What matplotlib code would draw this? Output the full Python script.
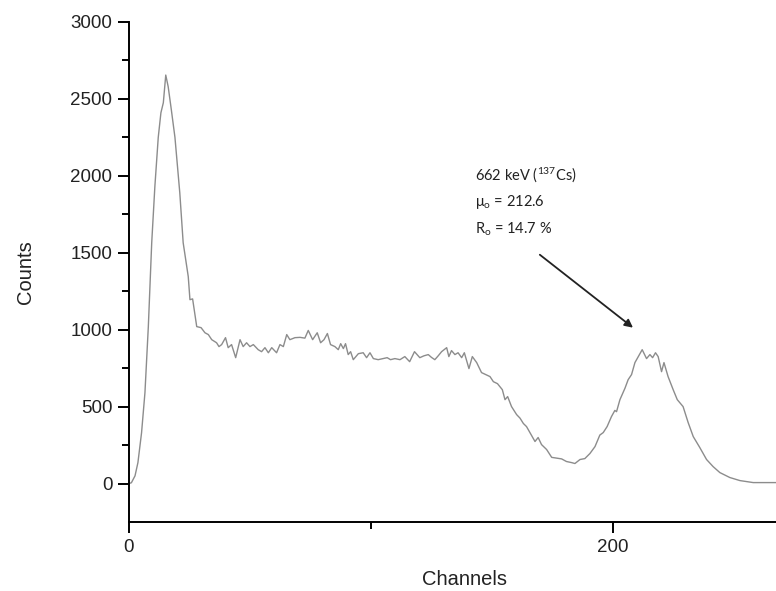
import matplotlib
matplotlib.use("Agg")
import matplotlib.pyplot as plt
from matplotlib.ticker import FixedLocator

# spectrum (channel, counts)
channels = [0, 1, 2.5, 3.7, 5.2, 6.6, 8.0, 9.4, 10.7, 12.1, 13.2, 14.2, 15.2, 16.2, 17.5,
            19.0, 21.0, 22.4, 24.5, 25.2, 26.3, 28.0, 29.8, 31.4, 32.8, 34.2, 36.2, 37.2,
            38.3, 39.9, 41.0, 42.4, 44.1, 45.9, 47.2, 48.6, 50.0, 51.4, 53.4, 54.8, 56.2,
            57.6, 59.0, 61.0, 62.4, 63.8, 65.2, 66.5, 68.6, 70.7, 72.7, 74.1, 75.9, 77.8,
            79.2, 80.6, 82.0, 83.3, 85.1, 86.5, 87.5, 88.6, 89.5, 90.6, 91.6, 92.7, 94.8,
            96.8, 98.2, 99.6, 101.0, 103.0, 105.0, 106.7, 108.1, 109.9, 112.0, 114.0, 116.0,
            118.0, 120.2, 121.9, 123.7, 125.0, 126.4, 127.8, 129.2, 131.3, 132.2, 133.3,
            134.7, 136.0, 137.5, 138.6, 140.5, 141.9, 143.7, 145.7, 147.4, 149.2, 150.6,
            152.3, 154.3, 155.4, 156.5, 158.1, 160.2, 161.6, 163.0, 164.3, 165.7, 167.8,
            169.1, 170.5, 172.6, 174.7, 176.7, 178.8, 180.8, 182.9, 184.3, 186.4, 188.4,
            190.5, 192.6, 194.6, 196.0, 197.6, 199.4, 200.8, 201.5, 202.9, 205.0, 206.3,
            207.7, 209.1, 210.5, 212.1, 213.9, 215.3, 216.4, 217.6, 218.7, 220.1, 221.1,
            222.8, 224.9, 226.6, 229.0, 231.1, 233.2, 235.9, 238.7, 241.4, 244.2, 248.3,
            252.5, 258.0, 263.5, 267.4]
counts = [0, 5, 50, 136, 330, 590, 1020, 1565, 1930, 2250, 2410, 2475, 2655, 2580, 2430,
          2250, 1890, 1565, 1345, 1195, 1200, 1020, 1013, 980, 968, 935, 915, 890,
          903, 948, 883, 903, 818, 935, 890, 915, 890, 903, 870, 857, 883,
          850, 883, 850, 903, 890, 968, 935, 948, 950, 945, 995, 935, 980,
          915, 935, 975, 903, 890, 870, 909, 877, 909, 838, 857, 805, 844,
          850, 818, 850, 812, 805, 812, 818, 805, 812, 805, 825, 792,
          857, 818, 830, 838, 820, 805, 830, 857, 883, 825, 864,
          838, 850, 818, 850, 747, 825, 786, 721, 708, 695, 662,
          649, 610, 545, 565, 500, 448, 425, 390, 370, 331, 273,
          299, 253, 221, 170, 165, 160, 143, 136, 130, 156, 162,
          195, 240, 315, 331, 370, 435, 475, 467, 545, 620, 675,
          708, 786, 825, 870, 812, 838, 818, 850, 825, 727, 786,
          695, 610, 545, 500, 396, 305, 234, 156, 110, 71, 39,
          19, 6, 6, 6]

plt.rcParams['font.family'] = ['Liberation Sans', 'DejaVu Sans']

fig = plt.figure(figsize=(7.76, 5.91), dpi=100)
ax = fig.add_axes([0.1662, 0.1168, 0.8338, 0.846])

ax.plot(channels, counts, color="#8c8c8c", lw=1.0)

ax.set_xlim(0, 267.4)
ax.set_ylim(-250, 3000)

ax.spines['top'].set_visible(False)
ax.spines['right'].set_visible(False)
ax.spines['left'].set_linewidth(1.4)
ax.spines['bottom'].set_linewidth(1.4)

ax.yaxis.set_major_locator(FixedLocator([0, 500, 1000, 1500, 2000, 2500, 3000]))
ax.yaxis.set_minor_locator(FixedLocator([250, 750, 1250, 1750, 2250, 2750]))
ax.xaxis.set_major_locator(FixedLocator([0, 200]))
ax.xaxis.set_minor_locator(FixedLocator([100]))
ax.tick_params(which='major', direction='out', length=8, width=1.4, labelsize=13.5,
               pad=4, labelcolor="#222222")
ax.tick_params(which='minor', direction='out', length=5, width=1.4)

ax.set_ylabel("Counts", fontsize=14.5, color="#222222")
ax.set_xlabel("Channels", fontsize=14.5, color="#222222")
ax.yaxis.set_label_coords(-0.145, 0.5)
ax.xaxis.set_label_coords(0.519, -0.096)

tfont = dict(fontsize=10.5, family=['Lato', 'DejaVu Sans'], va='center', ha='left',
             color="#222222")
ax.text(143, 2010, r"662 keV ($\mathregular{^{137}}$Cs)", **tfont)
ax.text(143, 1832, r"$\mathregular{\mu_o}$ = 212.6", **tfont)
ax.text(143, 1655, r"R$\mathregular{_o}$ = 14.7 %", **tfont)

ax.annotate("", xy=(208.3, 1013), xytext=(169.8, 1487),
            arrowprops=dict(arrowstyle="-|>", color="#222222", lw=1.3,
                            mutation_scale=12, shrinkA=0, shrinkB=0))

fig.savefig("out.png", dpi=100)
